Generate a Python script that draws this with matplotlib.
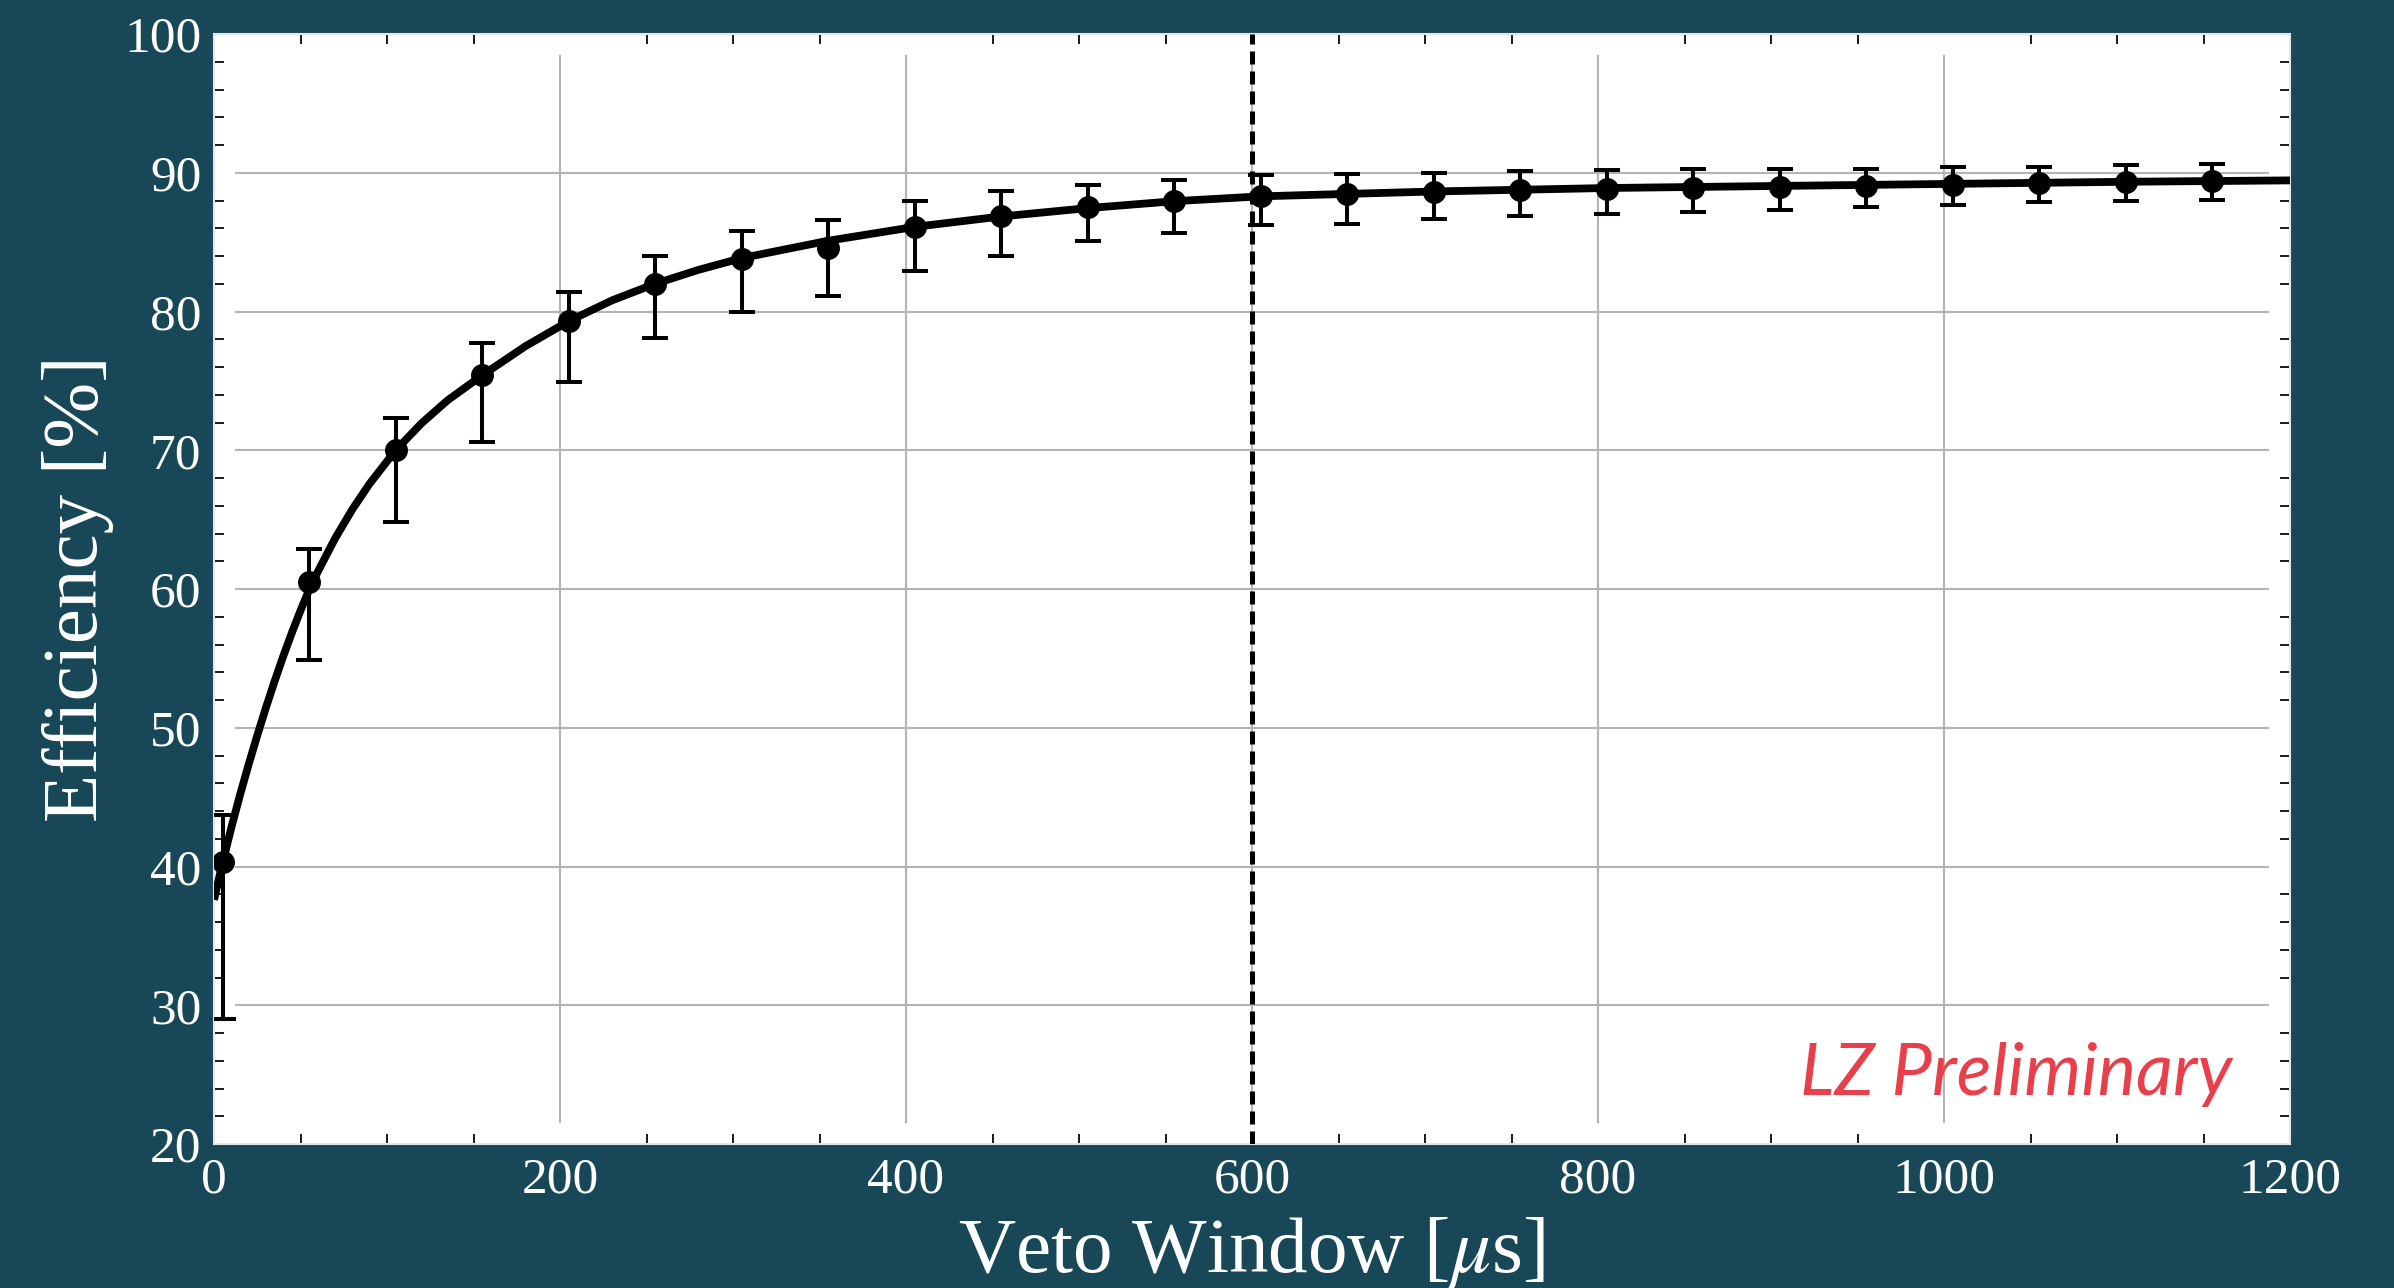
import numpy as np
import matplotlib
matplotlib.use("Agg")
import matplotlib.pyplot as plt
from matplotlib.ticker import MultipleLocator

# Veto window scan points [us] and measured efficiency [%]
window_us = [5, 55, 105, 155, 205, 255, 305, 355, 405, 455, 505, 555,
             605, 655, 705, 755, 805, 855, 905, 955, 1005, 1055, 1105, 1155]
efficiency = [40.3, 60.5, 70.0, 75.4, 79.3, 82.0, 83.8, 84.6, 86.1, 86.9, 87.5, 88.0,
              88.3, 88.45, 88.6, 88.75, 88.85, 88.9, 89.0, 89.05, 89.15, 89.25, 89.3, 89.4]
eff_upper = [43.7, 62.9, 72.3, 77.7, 81.4, 84.0, 85.8, 86.6, 88.0, 88.65, 89.1, 89.5,
             89.85, 89.9, 90.0, 90.1, 90.17, 90.24, 90.26, 90.28, 90.38, 90.41, 90.53, 90.64]
eff_lower = [29.0, 54.9, 64.8, 70.6, 74.95, 78.1, 79.95, 81.1, 82.9, 84.0, 85.1, 85.67,
             86.25, 86.3, 86.7, 86.9, 87.04, 87.16, 87.33, 87.5, 87.67, 87.86, 87.95, 88.05]

# Fitted efficiency curve
fit_x = [0, 5, 10, 15, 20, 25, 30, 35, 40, 45, 50, 55, 60, 70, 80, 90, 105, 120, 135,
         155, 180, 205, 230, 255, 280, 305, 355, 405, 455, 505, 555, 605, 705, 805,
         905, 1005, 1105, 1200]
fit_y = [37.6, 40.3, 42.8, 45.15, 47.35, 49.45, 51.45, 53.35, 55.15, 56.85, 58.45,
         59.95, 61.25, 63.65, 65.75, 67.6, 70.0, 71.95, 73.6, 75.4, 77.5, 79.3, 80.8,
         82.0, 83.0, 83.85, 85.1, 86.1, 86.85, 87.45, 87.95, 88.3, 88.65, 88.9,
         89.05, 89.2, 89.35, 89.45]

chosen_window = 600

BG = "#184857"

plt.rcParams["font.family"] = ["Liberation Serif", "DejaVu Serif"]
plt.rcParams["mathtext.fontset"] = "stix"

fig = plt.figure(figsize=(23.94, 12.88), dpi=100, facecolor=BG)
ax = fig.add_axes([0.0894, 0.1118, 0.8672, 0.8618])
ax.set_facecolor("white")

x = np.array(window_us)
y = np.array(efficiency)
yerr = np.array([y - np.array(eff_lower), np.array(eff_upper) - y])

# grid lines stop a little short of the frame
for gy in range(30, 100, 10):
    ax.axhline(gy, xmin=0.0106, xmax=0.9894, color="#b4b4b4", lw=1.5, zorder=0)
for gx in range(200, 1200, 200):
    ax.axvline(gx, ymin=0.02, ymax=0.98, color="#b4b4b4", lw=1.5, zorder=0)

ax.plot(fit_x, fit_y, color="black", lw=5.6, zorder=3,
        solid_capstyle="butt", solid_joinstyle="round")
ax.errorbar(x, y, yerr=yerr, fmt="o", color="black", ms=15.5, elinewidth=2.9,
            capsize=9.5, capthick=2.9, zorder=4)
ax.axvline(chosen_window, color="black", lw=3.6, linestyle=(0, (2.6, 1.4)), zorder=5)

ax.set_xlim(0, 1200)
ax.set_ylim(20, 100)
ax.xaxis.set_major_locator(MultipleLocator(200))
ax.xaxis.set_minor_locator(MultipleLocator(50))
ax.yaxis.set_major_locator(MultipleLocator(10))
ax.yaxis.set_minor_locator(MultipleLocator(2))

ax.tick_params(which="major", length=0, labelsize=37, labelcolor="white", pad=9)
ax.tick_params(which="minor", direction="in", length=7, width=1.4, color="#1a1a1a",
               top=True, right=True, bottom=True, left=True)

for s in ax.spines.values():
    s.set_color("#e6e6e6")
    s.set_linewidth(1.5)

ax.set_xlabel(r"Veto Window [$\mu$s]", fontsize=57, color="white")
ax.set_ylabel("Efficiency [%]", fontsize=57, color="white")
ax.xaxis.set_label_coords(0.5, -0.098)
ax.xaxis.label.set_va("center")
ax.yaxis.set_label_coords(-0.0655, 0.5)
ax.yaxis.label.set_va("center")

ax.text(0.972, 0.0441, "LZ Preliminary", transform=ax.transAxes, ha="right",
        va="baseline", fontsize=52, color="#e8404a", family="Lato", style="italic")

fig.savefig("out.png", dpi=100, facecolor=BG)
